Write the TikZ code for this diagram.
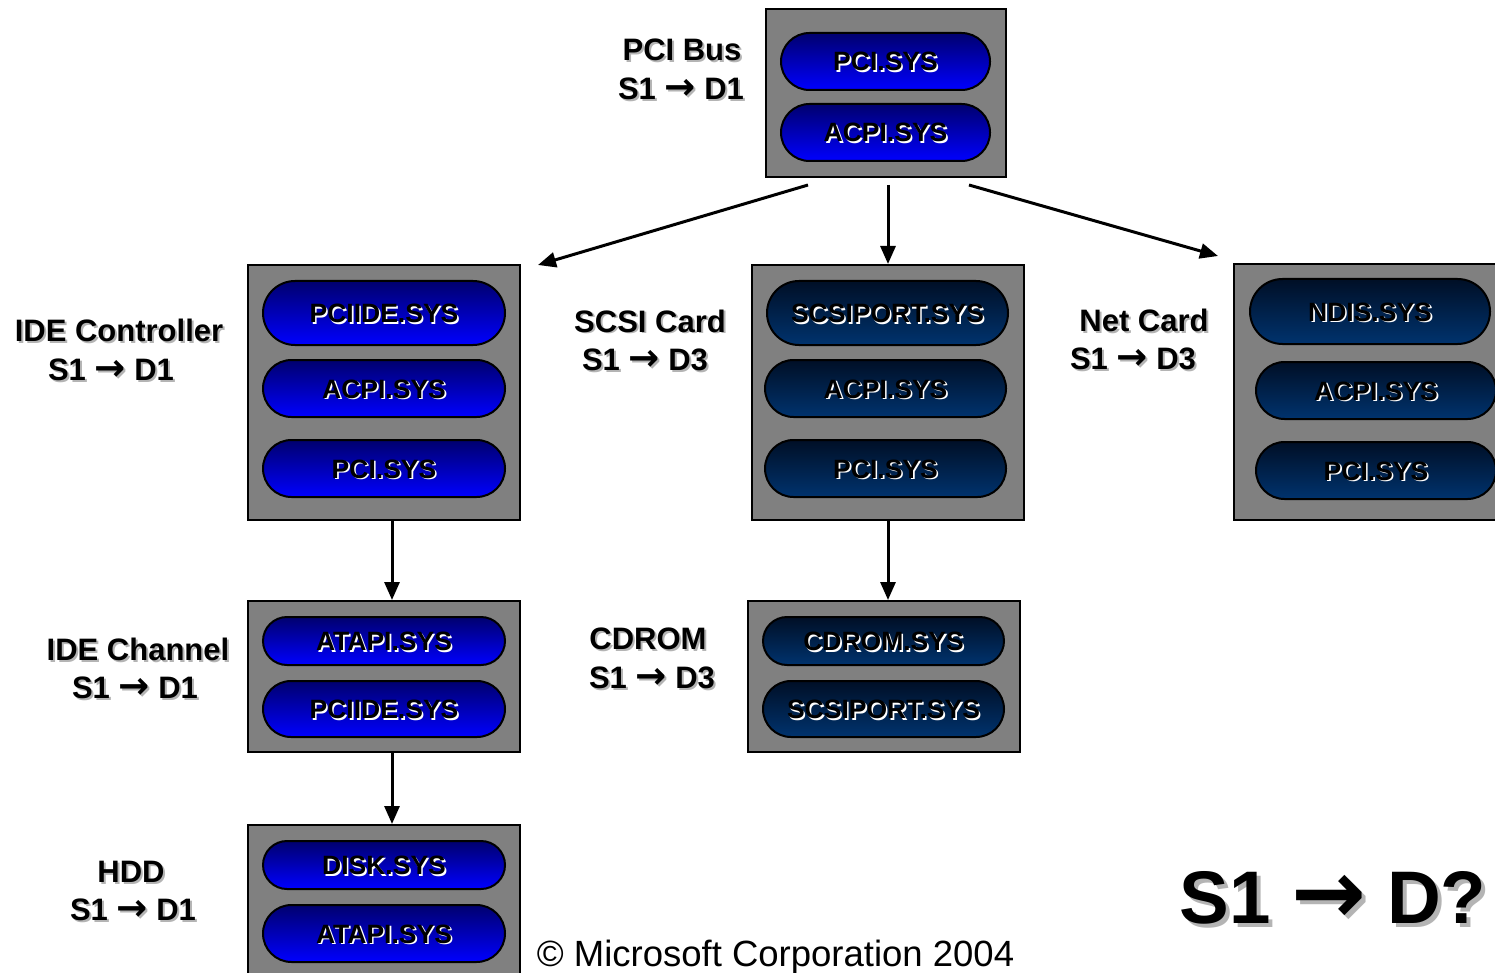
\documentclass[tikz,border=0pt]{standalone}
\usepackage{fontspec}
\setmainfont{Liberation Sans}
\newfontfamily\arrfont[Scale=1.2]{DejaVu Sans}
\newcommand\rarr{{\arrfont\bfseries\char"2192}}
\usetikzlibrary{shapes.misc,arrows.meta,calc}
\definecolor{boxgray}{HTML}{808080}
\definecolor{brtop}{HTML}{00006E}
\definecolor{brbot}{HTML}{0000FF}
\definecolor{dktop}{HTML}{000F26}
\definecolor{dkbot}{HTML}{00336E}
\definecolor{shgray}{HTML}{B4B4B4}
\tikzset{
  devbox/.style={draw=black, line width=2.5pt, fill=boxgray},
  pillbase/.style={rounded rectangle, draw=black, line width=2pt, inner sep=0pt},
  pillA/.style={pillbase, top color=brtop, bottom color=brbot},
  pillB/.style={pillbase, top color=dktop, bottom color=dkbot},
  ptxt/.style={font=\fontsize{26.5}{30}\selectfont\bfseries, text=black, inner sep=0pt, anchor=base},
  ptxts/.style={ptxt, text=white},
  lbl/.style={font=\fontsize{31}{36}\selectfont\bfseries, text=black, inner sep=0pt, anchor=base},
  lbls/.style={lbl, text=shgray},
  conn/.style={line width=3pt, -{Triangle[length=18pt,width=15pt]}},
}
\newcommand\pil[7]{%
  \node[#2, minimum width=#5pt, minimum height=#6pt] (#1) at (#3,#4) {};
  \node[ptxts] (#1s) at ($(#1.center)+(1.6,11.1)$) {#7};
  \node[ptxt] (#1t) at ($(#1.center)+(0,9.5)$) {#7};
}
\newcommand\lab[4]{%
  \node[lbls] (#1s) at (#2+2,#3+2) {#4};
  \node[lbl] (#1) at (#2,#3) {#4};
}
\begin{document}
\begin{tikzpicture}[x=1pt,y=-1pt]
\useasboundingbox (0,0) rectangle (1495,973);
\clip (0,0) rectangle (1495,973);
% boxes
\draw[devbox] (766,9) rectangle (1006,177);
\draw[devbox] (248,265) rectangle (520,520);
\draw[devbox] (752,265) rectangle (1024,520);
\draw[devbox] (1234,264) rectangle (1510,520);
\draw[devbox] (248,601) rectangle (520,752);
\draw[devbox] (748,601) rectangle (1020,752);
\draw[devbox] (248,825) rectangle (520,990);
% pills
\pil{p1}{pillA}{885.5}{61.5}{209}{57}{PCI.SYS}
\pil{p2}{pillA}{885.5}{132.5}{209}{57}{ACPI.SYS}
\pil{i1}{pillA}{384}{313}{242}{64}{PCIIDE.SYS}
\pil{i2}{pillA}{384}{388.5}{242}{57}{ACPI.SYS}
\pil{i3}{pillA}{384}{468.5}{242}{57}{PCI.SYS}
\pil{s1}{pillB}{887.5}{313}{241}{64}{SCSIPORT.SYS}
\pil{s2}{pillB}{885.5}{388.5}{241}{57}{ACPI.SYS}
\pil{s3}{pillB}{885.5}{468.5}{241}{57}{PCI.SYS}
\pil{n1}{pillB}{1370}{311.5}{240}{65}{NDIS.SYS}
\pil{n2}{pillB}{1376}{390.5}{240}{57}{ACPI.SYS}
\pil{n3}{pillB}{1376}{470.5}{240}{57}{PCI.SYS}
\pil{c1}{pillA}{384}{641}{242}{48}{ATAPI.SYS}
\pil{c2}{pillA}{384}{709}{242}{56}{PCIIDE.SYS}
\pil{d1}{pillB}{883.5}{641}{241}{48}{CDROM.SYS}
\pil{d2}{pillB}{883.5}{709}{241}{56}{SCSIPORT.SYS}
\pil{h1}{pillA}{384}{865}{242}{48}{DISK.SYS}
\pil{h2}{pillA}{384}{933.5}{242}{57}{ATAPI.SYS}
% labels
\lab{l1a}{682}{61}{PCI Bus}
\lab{l1b}{681}{100}{S1 \rarr\ D1}
\lab{l2a}{119}{341}{IDE Controller}
\lab{l2b}{111}{380}{S1 \rarr\ D1}
\lab{l3a}{650}{332}{SCSI Card}
\lab{l3b}{645}{370}{S1 \rarr\ D3}
\lab{l4a}{1144}{331}{Net Card}
\lab{l4b}{1133}{369}{S1 \rarr\ D3}
\lab{l5a}{138}{660}{IDE Channel}
\lab{l5b}{135}{698}{S1 \rarr\ D1}
\lab{l6a}{648}{649}{CDROM}
\lab{l6b}{652}{688}{S1 \rarr\ D3}
\lab{l7a}{131}{882}{HDD}
\lab{l7b}{133}{920}{S1 \rarr\ D1}
\node[lbls, font=\fontsize{74.5}{80}\selectfont\bfseries] (bigs) at (1337,927.5) {S1 \rarr\ D?};
\node[lbl, font=\fontsize{74.5}{80}\selectfont\bfseries] (big) at (1333,923.5) {S1 \rarr\ D?};
\node[inner sep=0pt, anchor=base, font=\fontsize{36.5}{40}\selectfont] (copy) at (775.5,966) {© Microsoft Corporation 2004};
% connectors
\coordinate (a1s) at (808,185);
\coordinate (a1e) at (538,265);
\coordinate (a2s) at (888,185);
\coordinate (a2e) at (888,264);
\coordinate (a3s) at (969,185);
\coordinate (a3e) at (1218,256);
\coordinate (a4s) at (392,520);
\coordinate (a4e) at (392,600);
\coordinate (a5s) at (888,520);
\coordinate (a5e) at (888,600);
\coordinate (a6s) at (392,752);
\coordinate (a6e) at (392,824);
\draw[conn] (a1s) -- (a1e);
\draw[conn] (a2s) -- (a2e);
\draw[conn] (a3s) -- (a3e);
\draw[conn] (a4s) -- (a4e);
\draw[conn] (a5s) -- (a5e);
\draw[conn] (a6s) -- (a6e);
\end{tikzpicture}
\end{document}
